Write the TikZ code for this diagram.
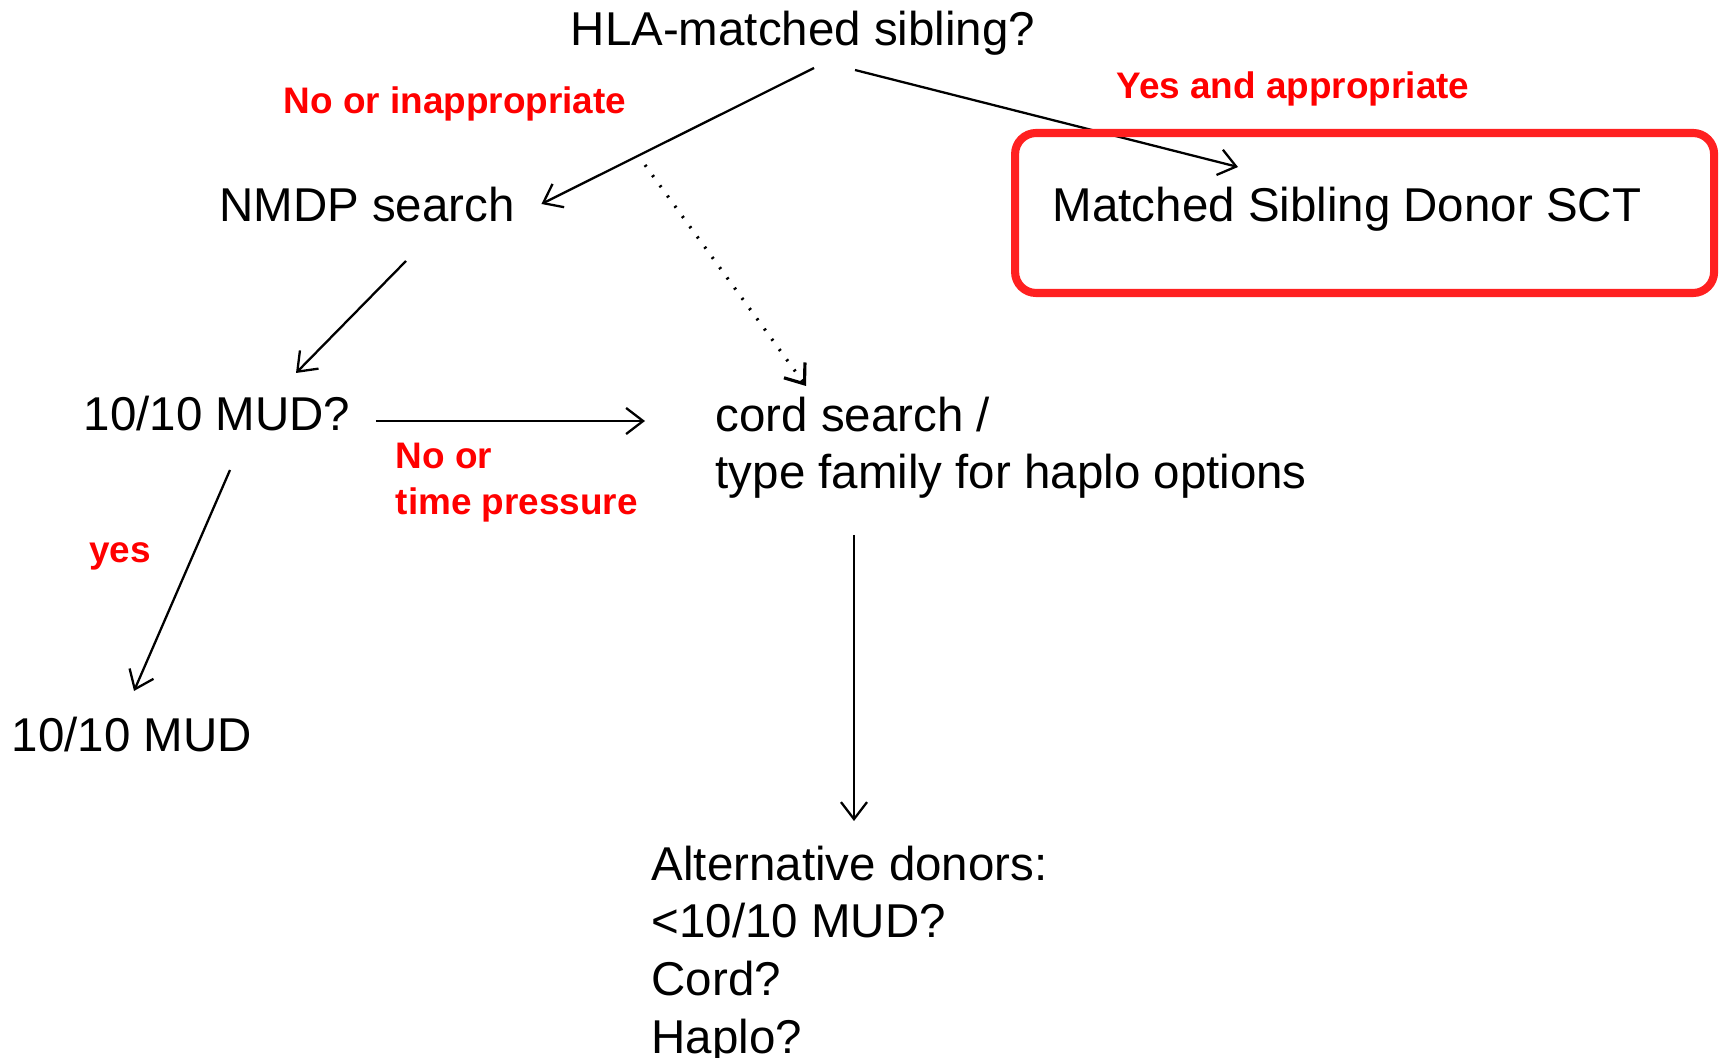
\documentclass[tikz,border=0pt]{standalone}
\usepackage{fontspec}
\setmainfont{Liberation Sans}
\usetikzlibrary{arrows.meta}
\definecolor{boxred}{RGB}{255,32,32}
\begin{document}
\begin{tikzpicture}[x=0.01cm, y=-0.01cm,
  txt/.style={inner sep=0pt, font=\fontsize{13.5}{16.4}\selectfont},
  lbl/.style={inner sep=0pt, text=red, font=\fontsize{10.5}{13.1}\selectfont\bfseries},
  arr/.style={line width=0.65pt, -{Straight Barb[length=1.7mm,width=2.6mm]}},
  dots/.style={line width=0.9pt, dash pattern=on 0.6pt off 3pt}]
\useasboundingbox (0,0) rectangle (1721,1058);

\node[txt, anchor=base] (hla) at (803,46) {HLA-matched sibling?};
\node[txt, anchor=base] (nmdp) at (367,222) {NMDP search};
\node[txt, anchor=base] (msd) at (1347,222) {Matched Sibling Donor SCT};
\node[txt, anchor=base] (mudq) at (217,431) {10/10 MUD?};
\node[txt, anchor=north west, align=left] (cord) at (715,396) {cord search /\\type family for haplo options};
\node[txt, anchor=base] (mud) at (132,751) {10/10 MUD};
\node[txt, anchor=north west, align=left] (alt) at (651,845) {Alternative donors:\\<10/10 MUD?\\Cord?\\Haplo?};

\node[lbl, anchor=base] (noinap) at (455,114) {No or inappropriate};
\node[lbl, anchor=base] (yesap) at (1293,99) {Yes and appropriate};
\node[lbl, anchor=north west, align=left] (notime) at (395,442) {No or\\time pressure};
\node[lbl, anchor=base] (yes) at (120,563) {yes};

\coordinate (fork) at (645,165);
\draw[arr] ([shift={(11,22)}]hla.base) -- ([shift={(26,-18)}]nmdp.base east);
\draw[arr] ([shift={(52,24)}]hla.base) -- ([shift={(-109,-55)}]msd.base);
\draw[arr, dots] (fork) -- ([shift={(91,-10)}]cord.north west);
\draw[arr] ([shift={(39,39)}]nmdp.base) -- ([shift={(79,-58)}]mudq.base);
\draw[arr] ([shift={(25,-10)}]mudq.base east) -- ([shift={(-70,25)}]cord.north west);
\draw[arr] ([shift={(13,39)}]mudq.base) -- ([shift={(2,-60)}]mud.base);
\draw[arr] ([shift={(139,139)}]cord.north west) -- ([shift={(203,-24)}]alt.north west);

\draw[boxred, line width=2.3pt, rounded corners=0.21cm] ([shift={(-37,-89)}]msd.base west) rectangle ([shift={(662,71)}]msd.base west);
\end{tikzpicture}
\end{document}
